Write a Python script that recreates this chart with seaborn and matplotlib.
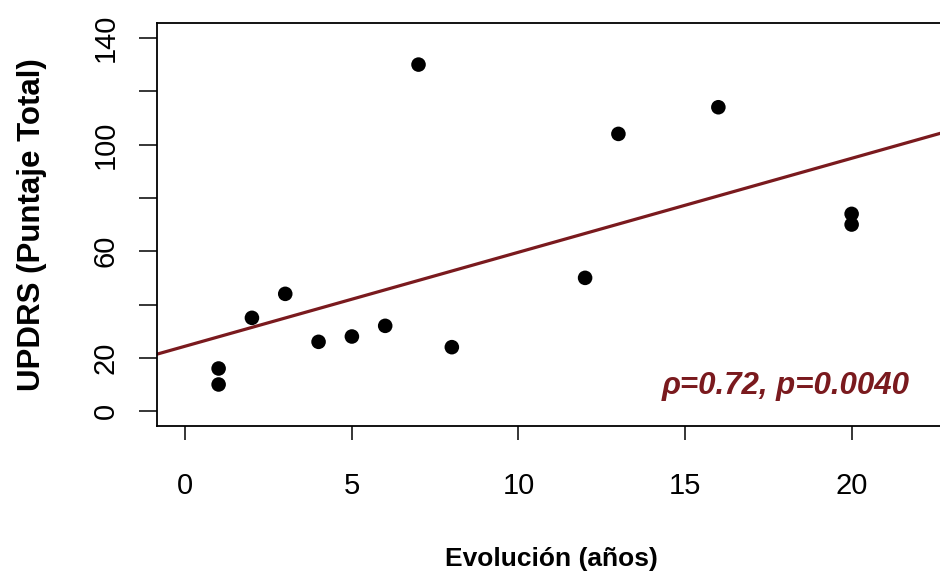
import matplotlib
matplotlib.use("Agg")
import matplotlib.pyplot as plt
import seaborn as sns
import numpy as np

# Data
evolucion = [1, 1, 2, 3, 4, 5, 6, 7, 8, 12, 13, 16, 20, 20]
updrs = [16, 10, 35, 44, 26, 28, 32, 130, 24, 50, 104, 114, 74, 70]
x_ticks = [0, 5, 10, 15, 20]
y_ticks = [0, 20, 40, 60, 80, 100, 120, 140]
y_tick_labels = ["0", "20", "", "60", "", "100", "", "140"]
annot = "\u03c1=0.72, p=0.0040"

sns.set_style("ticks")
plt.rcParams["font.family"] = ["Liberation Sans", "DejaVu Sans"]

fig = plt.figure(figsize=(9.4, 5.75), dpi=100)
ax = fig.add_axes([0.167, 0.259, 0.84, 0.701])

ax.set_xlim(-0.85, 22.85)
ax.set_ylim(-5.6, 145.6)

sns.regplot(x=np.array(evolucion), y=np.array(updrs), ax=ax, ci=None, truncate=False,
            scatter_kws=dict(color="black", s=110, edgecolor="none", alpha=1, zorder=3),
            line_kws=dict(color="#7a1a1e", linewidth=2.3, zorder=2))

ax.set_xticks(x_ticks)
ax.set_xticklabels([str(t) for t in x_ticks], fontsize=21)
ax.set_yticks(y_ticks)
ax.set_yticklabels(y_tick_labels, fontsize=21, rotation=90, va="center")

ax.tick_params(axis="x", direction="out", length=10, width=1.1, pad=23, colors="black")
ax.tick_params(axis="y", direction="out", length=13, width=1.1, pad=14, colors="black")

for sp in ax.spines.values():
    sp.set_visible(True)
    sp.set_linewidth(1.3)
    sp.set_color("black")

ax.set_xlabel("Evolución (años)", fontsize=19, fontweight="bold", labelpad=34, color="black")
ax.set_ylabel("UPDRS (Puntaje Total)", fontsize=22.5, fontweight="bold", labelpad=32, color="black")

ax.text(21.75, 9.5, annot, ha="right", va="center", fontsize=22.5,
        fontweight="bold", fontstyle="italic", color="#7a1a1e")

fig.savefig("out.png", dpi=100, facecolor="white")
